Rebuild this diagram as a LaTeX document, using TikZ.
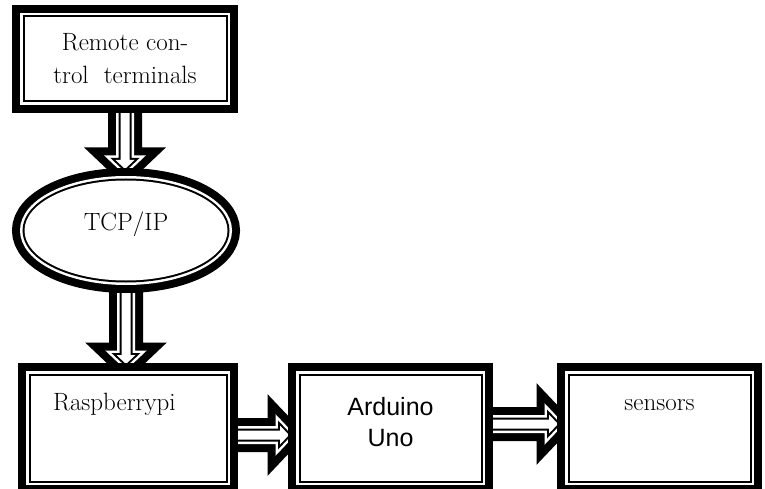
\documentclass[tikz,border=0pt]{standalone}
\usepackage{fontspec}
\newfontfamily\unofont{Liberation Sans}
\usetikzlibrary{shapes.geometric,calc,positioning,backgrounds}
\tikzset{
  dbl/.style={draw=black, fill=white, line width=25pt, line join=miter,
    postaction={draw=white, line width=9pt},
    postaction={draw=black, line width=4pt},
    postaction={fill=white}},
  blk/.style={dbl, rectangle, inner sep=0pt, align=center, font=\fontsize{25}{33}\selectfont},
  ovalbox/.style={dbl, ellipse, inner sep=0pt, font=\fontsize{25}{33}\selectfont}
}
% hollow block arrow from #1 to #2
\newcommand{\hollowarrow}[2]{%
  \coordinate (hb) at ($(#2)!9pt!(#1)$);
  \draw[dbl] ($(#1)!4.5pt!90:(#2)$) -- ($(hb)!4.5pt!90:(#2)$) -- ($(hb)!9.5pt!90:(#2)$) -- (#2)
    -- ($(hb)!9.5pt!-90:(#2)$) -- ($(hb)!4.5pt!-90:(#2)$) -- ($(#1)!4.5pt!-90:(#2)$) -- cycle;}
\begin{document}
\begin{tikzpicture}[x=1pt, y=-1pt]
  \useasboundingbox (0,0) rectangle (765,489);
  \node[blk, minimum width=201pt, minimum height=83pt] (rct) at (125,59) {Remote con-\\trol\ \ terminals};
  \node[ovalbox, minimum width=203pt, minimum height=100pt, text depth=18pt] (tcp) at (126,230.5) {TCP/IP};
  \node[blk, minimum width=195pt, minimum height=105pt, text width=150pt, align=left, text height=18pt, text depth=54pt] (pi) at (128,428) {Raspberrypi};
  \node[blk, minimum width=180pt, minimum height=105pt, font=\unofont\fontsize{25}{31}\selectfont, text depth=12pt] (ard) at (390.5,428) {Arduino\\Uno};
  \node[blk, minimum width=180pt, minimum height=105pt, text height=18pt, text depth=54pt] (sns) at (659.5,428) {sensors};
  % arrows, behind the boxes
  \coordinate (s1) at ([yshift=4pt]rct.south);
  \coordinate (e1) at ([yshift=-1pt]s1 |- tcp.north);
  \coordinate (s2) at ([yshift=4pt]tcp.south);
  \coordinate (e2) at ([yshift=-1pt]s2 |- pi.north);
  \coordinate (s3) at ([xshift=-4pt,yshift=-7pt]pi.east);
  \coordinate (e3) at ([xshift=1pt]s3 -| ard.west);
  \coordinate (s4) at ([xshift=-4pt,yshift=4pt]ard.east);
  \coordinate (e4) at ([xshift=1pt]s4 -| sns.west);
  \begin{scope}[on background layer]
    \foreach \i in {1,...,4} \hollowarrow{s\i}{e\i};
  \end{scope}
\end{tikzpicture}
\end{document}
